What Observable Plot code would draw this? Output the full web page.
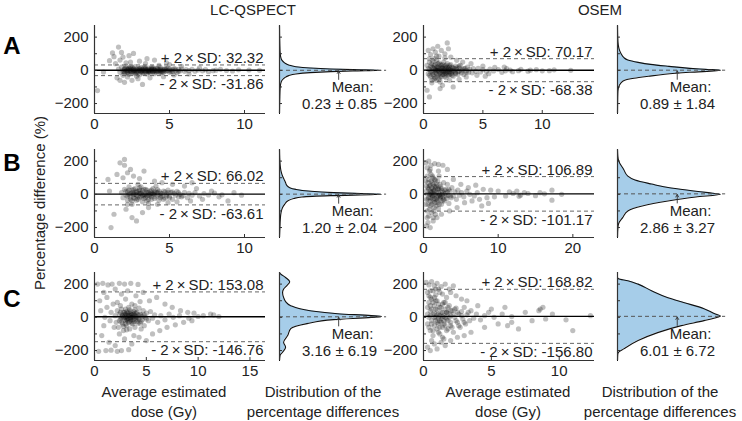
<!DOCTYPE html>
<html><head><meta charset="utf-8">
<script src="https://cdn.jsdelivr.net/npm/d3@7"></script>
<script src="https://cdn.jsdelivr.net/npm/@observablehq/plot@0.6"></script>
<style>
body{margin:0;background:#fff;}
#fig{position:relative;width:742px;height:421px;overflow:hidden;font-family:"Liberation Sans",Arial,sans-serif;color:#222;}
.lbl{position:absolute;white-space:nowrap;font-size:15px;line-height:20px;text-align:center;transform:translate(-50%,-50%);}
.row{font-weight:bold;font-size:24px;color:#000;}
.panel{position:absolute;}
</style></head><body><div id="fig"></div>
<script>
// ---------- data ----------
const methods = ["LC-QSPECT", "OSEM"];
const rowLetters = ["A", "B", "C"];
const xMax = [[11.4, 14.4], [11.4, 22.9], [16.5, 12.6]];
const xTicks = [[[0, 5, 10], [0, 5, 10]], [[0, 5, 10], [0, 10, 20]], [[0, 5, 10, 15], [0, 5, 10]]];
const yTickLabels = [-200, 0, 200];
const yTickMarks = [-200, -100, 0, 100, 200];
const yDomain = [-260, 270];
const meanVals = [[0.23, 0.89], [1.20, 2.86], [3.16, 6.01]];
const meanSD = [[0.85, 1.84], [2.04, 3.27], [6.19, 6.72]];
const upperSD = [[32.32, 70.17], [66.02, 106.89], [153.08, 168.82]];
const lowerSD = [[-31.86, -68.38], [-63.61, -101.17], [-146.76, -156.80]];
const arrowX = 0.58;

const aLC = [[0.2,-122],[0.6,-10],[1.0,58],[1.2,105],[1.3,82],[1.5,-45],[1.6,140],[1.7,62],[1.8,108],[1.9,-30],[2.0,-72],[2.1,45],[2.3,88],[2.5,-60],[2.6,102],[2.8,-35],[3.0,55],[3.2,-85],[3.4,40],[3.7,-45],[4.0,62],[4.3,30],[4.6,-38],[5.0,35],[5.3,-28],[5.8,24],[6.3,-22],[7.0,15],[7.6,-8],[8.4,6],[9.2,-4],[9.6,3],[10.3,2],[11.0,0],
[1.6,8],[1.7,-12],[1.8,20],[1.9,2],[2.0,-18],[2.0,10],[2.1,-4],[2.1,25],[2.2,-10],[2.2,6],[2.3,-24],[2.3,14],[2.4,0],[2.4,-8],[2.5,18],[2.5,-14],[2.6,4],[2.6,-2],[2.7,22],[2.7,-20],[2.8,8],[2.8,-6],[2.9,12],[2.9,-12],[3.0,0],[3.0,-26],[3.1,16],[3.1,-4],[3.2,6],[3.2,-16],[3.3,20],[3.3,-2],[3.4,-10],[3.4,8],[3.5,-22],[3.5,2],[3.6,14],[3.6,-6],[3.7,4],[3.7,-14],[3.8,18],[3.8,-2],[3.9,-10],[3.9,8],[4.0,0],[4.0,-20],[4.1,12],[4.2,-6],[4.2,4],[4.3,-14],[4.4,16],[4.4,-2],[4.5,6],[4.6,-10],[4.7,10],[4.8,-4],[4.9,14],[5.0,-12],[5.1,2],[5.2,-8],[5.3,10],[5.4,-2],[5.5,-14],[5.6,6],[5.7,-4],[5.8,8],[6.0,-6],[6.1,4],[6.3,-2],[6.5,6],[6.7,-5],[6.9,2],[7.2,-3],[7.4,4],[7.9,-2],[8.1,1],[8.8,-1],
[2.2,0],[2.5,5],[2.7,-4],[3.0,8],[3.2,-6],[3.5,-3],[3.8,4],[4.1,-2],[4.5,-6],[2.9,2],[3.6,1],[4.3,3]];
const aLCdense = [[1.9,-6],[2.0,4],[2.1,14],[2.2,-16],[2.3,-2],[2.4,10],[2.5,-8],[2.6,12],[2.7,2],[2.8,-14],[2.9,-4],[3.0,12],[3.1,-8],[3.2,0],[3.3,10],[3.4,-4],[3.5,6],[3.6,-10],[3.7,-2],[3.8,10],[3.9,-6],[4.0,6],[4.1,-10],[4.2,12],[4.3,-4],[4.4,6],[4.5,-12],[4.6,2],[4.7,-6],[4.8,10],[4.9,-2],[5.0,6],[5.1,-8],[5.2,4],[5.4,8],[5.6,-6],[2.3,6],[2.6,-10],[3.1,2],[3.4,14],[3.7,-8],[4.0,-4],[4.4,-12],[4.7,4],[2.0,-8],[2.4,20],[3.3,-18],[3.9,16],
[1.4,40],[1.9,80],[2.2,-40],[2.4,50],[2.9,-50],[3.5,70],[4.8,45],[1.7,-60]];

const aOSEM = [[0.3,-120],[0.5,-160],[0.4,120],[0.6,95],[0.8,130],[0.9,70],[1.0,110],[1.2,145],[1.3,85],[1.5,120],[1.6,-90],[1.8,100],[2.0,165],[2.1,130],[2.3,80],[2.5,-100],[0.7,-75],[1.1,-60],[1.4,-110],[2.8,60],[3.0,-55],[3.3,50],[3.6,-40],[4.0,40],[4.5,-30],[5.0,25],[5.5,-20],[6.0,18],[6.6,-12],[7.0,10],[7.5,-8],[8.2,6],[8.8,-5],[9.5,4],[10.0,-3],[11.0,3],[12.4,0],[10.6,-2],[6.8,20],[5.2,-35],
[0.3,30],[0.4,-20],[0.5,50],[0.5,5],[0.6,-40],[0.7,20],[0.7,-5],[0.8,55],[0.8,-25],[0.9,10],[0.9,-50],[1.0,35],[1.0,-10],[1.1,60],[1.1,0],[1.2,-30],[1.2,20],[1.3,-55],[1.3,45],[1.4,5],[1.4,-15],[1.5,30],[1.5,-40],[1.6,12],[1.6,-5],[1.7,50],[1.7,-25],[1.8,0],[1.8,25],[1.9,-45],[1.9,15],[2.0,-10],[2.0,40],[2.1,5],[2.1,-30],[2.2,20],[2.2,-8],[2.3,-20],[2.3,35],[2.4,0],[2.5,15],[2.5,-35],[2.6,-5],[2.7,25],[2.7,-15],[2.8,5],[2.9,-25],[3.0,15],[3.0,-5],[3.1,30],[3.2,-15],[3.3,5],[3.4,-25],[3.5,12],[3.6,-2],[3.7,20],[3.8,-12],[3.9,6],[4.1,-15],[4.2,10],[4.4,-6],[4.6,12],[4.8,-10],[5.0,4],[5.3,-6],[5.6,8],[5.9,-4],[6.3,5],[6.9,-3],[7.3,2],[8.0,-2],[9.0,1],
[1.0,5],[1.3,-5],[1.6,20],[1.9,-8],[2.2,3],[1.2,10],[1.5,-12],[1.8,-18],[2.1,12],[2.4,-10]];
const aOSEMdense = [[0.4,10],[0.5,-30],[0.6,25],[0.6,-10],[0.7,40],[0.8,-15],[0.8,15],[0.9,-35],[0.9,30],[1.0,0],[1.0,-45],[1.1,20],[1.1,-20],[1.2,40],[1.2,0],[1.3,-25],[1.3,15],[1.4,-40],[1.4,35],[1.5,0],[1.5,15],[1.6,-25],[1.6,35],[1.7,5],[1.7,-10],[1.8,-35],[1.8,12],[1.9,30],[1.9,-20],[2.0,0],[2.0,20],[2.1,-15],[2.2,30],[2.2,-25],[2.3,5],[2.4,-30],[2.4,20],[2.5,-5],[2.6,12],[2.7,-20],[2.8,15],[2.9,-8],[3.0,25],[3.2,-2],[3.4,10],[3.6,-12],
[0.5,70],[0.7,-60],[1.1,85],[1.4,-70],[1.8,75],[2.2,-60]];

const bLC = [[1.1,-200],[1.3,-120],[1.0,20],[0.9,90],[1.5,120],[1.7,190],[2.0,210],[2.0,175],[2.2,130],[1.9,100],[2.4,150],[2.6,110],[3.0,95],[3.3,140],[2.1,-90],[2.5,-140],[2.8,-160],[2.2,-60],[3.2,-110],[3.6,-80],[4.0,80],[4.2,-60],[4.5,70],[4.9,-50],[5.2,60],[5.5,-45],[6.0,50],[6.4,-40],[6.8,35],[7.2,-30],[7.8,20],[8.3,-15],[8.9,-40],[9.3,10],[9.8,-5],[6.5,70],
[1.8,10],[1.9,-20],[2.0,30],[2.1,-5],[2.2,15],[2.2,-35],[2.3,45],[2.3,0],[2.4,-15],[2.5,25],[2.5,-40],[2.6,8],[2.7,-25],[2.7,35],[2.8,-5],[2.9,18],[2.9,-30],[3.0,5],[3.0,40],[3.1,-15],[3.2,22],[3.2,-45],[3.3,0],[3.4,-20],[3.4,30],[3.5,10],[3.5,-8],[3.6,-30],[3.7,20],[3.7,0],[3.8,-15],[3.9,35],[3.9,5],[4.0,-25],[4.1,15],[4.2,-5],[4.2,28],[4.3,-35],[4.4,8],[4.5,-12],[4.6,20],[4.7,-22],[4.8,2],[4.9,25],[5.0,-10],[5.1,12],[5.2,-30],[5.3,5],[5.5,18],[5.6,-15],[5.7,0],[5.9,-8],[6.0,12],[6.2,-20],[6.3,6],[6.5,-5],[6.7,10],[7.0,-10],[7.3,5],[7.6,-4],[8.0,8],[8.5,-3],
[2.6,-2],[3.1,6],[3.6,-4],[4.0,3],[4.4,-6],[2.8,12],[3.3,-10],[3.8,8]];
const bLCdense = [[2.1,20],[2.2,-10],[2.3,25],[2.4,5],[2.4,-30],[2.5,10],[2.6,-20],[2.6,30],[2.7,0],[2.8,20],[2.8,-35],[2.9,-10],[3.0,25],[3.0,-20],[3.1,10],[3.2,-5],[3.3,30],[3.3,-25],[3.4,0],[3.5,-40],[3.5,25],[3.6,10],[3.7,-10],[3.8,25],[3.8,-30],[3.9,0],[4.0,15],[4.1,-15],[4.2,10],[4.3,20],[4.4,-20],[4.5,5],[4.6,-30],[4.7,15],[4.8,-10],[4.9,10],[5.0,-20],[5.2,15],[5.4,-5],[5.6,10],[5.8,-15],
[3.1,45],[3.6,-55],[4.1,50],[2.5,-60],[2.9,60]];

const bOSEM = [[0.3,190],[0.5,160],[0.7,200],[1.0,175],[1.5,185],[2.0,180],[2.6,175],[3.2,150],[0.4,-190],[0.6,-170],[0.9,-200],[1.3,-160],[1.8,-140],[2.4,-120],[3.5,-100],[4.0,90],[4.5,-80],[5.0,60],[5.5,-50],[6.0,40],[6.5,-40],[7.0,55],[7.5,-30],[8.0,30],[8.5,-20],[9.0,25],[9.5,-15],[10.0,20],[11.0,-10],[11.5,15],[12.0,5],[12.5,20],[13.0,-5],[13.5,10],[14.0,5],[15.0,-8],[15.6,10],[16.2,3],[17.2,25],[17.2,-35],[18.5,0],[12.8,-12],[8.7,-55],[7.8,-70],
[0.3,80],[0.3,-60],[0.4,20],[0.5,-100],[0.5,110],[0.6,40],[0.6,-30],[0.7,-130],[0.7,90],[0.8,0],[0.8,140],[0.9,-70],[0.9,55],[1.0,-20],[1.0,120],[1.1,15],[1.1,-110],[1.2,70],[1.2,-45],[1.3,30],[1.3,100],[1.4,-80],[1.4,0],[1.5,50],[1.5,-25],[1.6,-120],[1.6,85],[1.7,10],[1.8,-50],[1.8,60],[1.9,-10],[2.0,35],[2.0,-85],[2.1,110],[2.2,0],[2.2,-30],[2.3,45],[2.4,-60],[2.5,20],[2.6,-15],[2.7,70],[2.8,-40],[2.9,5],[3.0,30],[3.1,-25],[3.2,60],[3.3,-5],[3.4,-55],[3.5,20],[3.7,-20],[3.8,40],[4.0,-10],[4.2,15],[4.4,-30],[4.6,25],[4.8,-5],[5.1,10],[5.4,-15],[5.8,20],[6.2,0],[6.8,-10],[7.2,10],
[1.0,10],[1.4,25],[1.7,-30],[2.1,-5],[2.5,-2],[1.2,-10],[1.9,30],[2.3,-15]];
const bOSEMdense = [[0.4,50],[0.4,-30],[0.5,0],[0.6,70],[0.6,-60],[0.7,30],[0.7,-20],[0.8,-90],[0.8,50],[0.9,20],[0.9,-40],[1.0,80],[1.0,0],[1.1,-60],[1.1,40],[1.2,-10],[1.2,110],[1.3,-30],[1.3,60],[1.4,-100],[1.4,20],[1.5,-50],[1.5,90],[1.6,0],[1.6,40],[1.7,-70],[1.7,50],[1.8,-20],[1.9,80],[1.9,-40],[2.0,10],[2.1,-60],[2.1,30],[2.2,60],[2.3,-15],[2.4,35],[2.5,-40],[2.6,10],[2.7,-30],[2.8,25],[3.0,-10],[3.2,15],[3.4,30],[3.6,-10],
[0.5,-140],[0.9,150],[1.3,-140],[2.0,140]];

const cLC = [[0.3,200],[0.8,205],[1.3,195],[1.7,200],[2.4,205],[2.9,200],[3.5,205],[4.2,198],[0.9,150],[0.5,100],[1.2,120],[2.0,170],[2.6,140],[3.2,160],[4.0,130],[4.7,150],[5.3,100],[6.0,120],[6.8,80],[7.5,60],[8.3,40],[9.0,30],[9.6,25],[10.5,10],[11.2,20],[12.0,5],[0.4,-205],[1.1,-200],[1.6,-198],[2.2,-205],[2.6,-200],[3.3,-195],[1.4,-150],[0.7,-110],[2.0,-170],[2.9,-130],[3.6,-160],[4.3,-120],[5.0,-140],[5.6,-100],[6.3,-80],[7.0,-60],[7.8,-45],[8.6,-30],[9.4,-20],[0.6,40],[0.9,-50],[1.2,60],[1.5,-20],[1.8,80],
[2.0,10],[2.1,-30],[2.2,40],[2.3,-60],[2.4,20],[2.5,-10],[2.5,70],[2.6,0],[2.7,-40],[2.8,30],[2.8,-80],[2.9,15],[3.0,-20],[3.0,50],[3.1,5],[3.1,-50],[3.2,25],[3.2,-5],[3.3,60],[3.3,-30],[3.4,10],[3.4,-70],[3.5,35],[3.5,-15],[3.6,0],[3.6,80],[3.7,-40],[3.7,20],[3.8,-10],[3.9,45],[3.9,-60],[4.0,5],[4.1,-25],[4.1,30],[4.2,-5],[4.3,55],[4.4,-35],[4.5,15],[4.6,-15],[4.7,40],[4.8,-50],[4.9,0],[5.0,25],[5.2,-20],[5.4,35],[5.6,-5],[5.8,15],[6.1,-30],[6.4,10],[6.8,-15],[7.2,20],[7.6,0],[8.2,10],[9.1,-5],[10.0,5],[11.5,15],
[3.0,0],[3.3,12],[3.5,-5],[2.7,8],[3.8,20],[3.1,-12],[2.9,30]];
const cLCdense = [[2.4,-20],[2.5,30],[2.6,-30],[2.7,15],[2.8,0],[2.9,-15],[3.0,20],[3.0,-40],[3.1,35],[3.2,-20],[3.2,10],[3.3,-10],[3.3,30],[3.4,-25],[3.4,45],[3.5,0],[3.5,20],[3.6,-35],[3.6,15],[3.7,5],[3.7,-15],[3.8,35],[3.8,-25],[3.9,10],[4.0,-15],[4.0,25],[4.1,0],[4.2,-35],[4.2,15],[4.3,-10],[4.4,20],[4.5,-25],[4.6,5],[4.8,15],[5.0,-10],
[2.6,50],[2.8,-55],[3.1,-75],[3.9,70],[4.5,-70],[2.2,90],[2.4,-100],[3.0,110],[3.8,-110],[4.4,95],[1.0,0],[1.6,30],[1.9,-60]];

const cOSEM = [[0.2,210],[0.4,195],[0.6,215],[0.8,190],[1.0,205],[1.3,185],[1.6,200],[1.9,170],[2.2,190],[0.3,150],[0.5,120],[0.7,160],[0.9,135],[1.1,170],[1.4,140],[1.7,120],[2.0,150],[2.4,130],[2.8,110],[3.2,100],[0.3,-180],[0.5,-200],[0.8,-160],[1.0,-190],[1.3,-150],[1.6,-170],[2.0,-140],[2.5,-120],[3.0,-110],[3.5,-90],[4.0,70],[4.5,-60],[5.0,50],[5.5,-40],[6.0,60],[6.5,-30],[7.0,-70],[7.5,30],[8.0,-20],[8.5,40],[8.8,60],[9.0,-10],[9.5,20],[10.5,-15],[11.0,-80],[12.3,10],[8.6,50],[6.2,-50],
[0.3,60],[0.3,-40],[0.4,90],[0.4,0],[0.5,-80],[0.5,40],[0.6,110],[0.6,-20],[0.7,20],[0.7,-110],[0.8,70],[0.8,-50],[0.9,0],[0.9,100],[1.0,-30],[1.0,45],[1.1,-90],[1.1,80],[1.2,10],[1.2,-60],[1.3,60],[1.3,-10],[1.4,-120],[1.4,30],[1.5,90],[1.5,-40],[1.6,0],[1.6,50],[1.7,-80],[1.8,25],[1.8,-20],[1.9,70],[2.0,-50],[2.0,10],[2.1,40],[2.2,-90],[2.3,0],[2.4,55],[2.5,-30],[2.6,20],[2.7,-60],[2.8,35],[2.9,-10],[3.0,60],[3.1,-40],[3.2,15],[3.4,-20],[3.5,40],[3.7,-5],[3.9,20],[4.2,-15],[4.5,10],[4.8,30],[5.2,0],[5.8,20],[6.5,5],
[1.0,15],[1.2,-20],[1.4,5],[1.7,30],[0.8,25],[1.1,-5]];
const cOSEMdense = [[0.3,20],[0.4,-60],[0.4,130],[0.5,10],[0.5,70],[0.6,-40],[0.6,50],[0.7,-80],[0.7,90],[0.8,0],[0.8,120],[0.9,-20],[0.9,50],[1.0,-70],[1.0,100],[1.1,20],[1.1,-40],[1.2,60],[1.2,-100],[1.3,30],[1.3,-30],[1.4,80],[1.4,-60],[1.5,10],[1.5,-20],[1.6,-50],[1.6,90],[1.7,30],[1.7,-10],[1.8,60],[1.8,-70],[1.9,0],[2.0,40],[2.0,-30],[2.1,-60],[2.2,20],[2.3,50],[2.4,-20],[2.5,30],[2.6,-50],[2.8,10],[3.0,-30],[3.3,30],
[0.5,160],[0.9,170],[1.2,150],[0.6,-140],[1.5,-130]];

// density curves: [percentage difference, relative density]
const densA_LC = [[-260,0],[-160,0.003],[-110,0.006],[-80,0.012],[-60,0.025],[-45,0.05],[-32,0.09],[-22,0.16],[-14,0.3],[-8,0.5],[-4,0.72],[0,1],[4,0.72],[8,0.5],[14,0.3],[22,0.16],[32,0.09],[45,0.05],[60,0.025],[80,0.012],[110,0.006],[160,0.003],[270,0]];
const densA_OSEM = [[-260,0],[-140,0.003],[-108,0.008],[-78,0.03],[-60,0.07],[-48,0.16],[-36,0.3],[-24,0.46],[-12,0.7],[0,1],[6,0.85],[12,0.7],[24,0.5],[36,0.32],[48,0.2],[62,0.1],[78,0.06],[100,0.035],[120,0.02],[150,0.008],[200,0.002],[270,0]];
const densB_LC = [[-260,0],[-200,0.004],[-150,0.008],[-110,0.015],[-80,0.03],[-60,0.05],[-40,0.08],[-25,0.14],[-16,0.22],[-8,0.5],[0,1],[5,0.8],[10,0.53],[20,0.28],[30,0.16],[40,0.1],[55,0.07],[70,0.06],[90,0.045],[110,0.03],[140,0.015],[180,0.006],[220,0.002],[270,0]];
const densB_OSEM = [[-260,0],[-200,0.004],[-170,0.015],[-140,0.05],[-100,0.1],[-70,0.24],[-40,0.49],[-16,0.76],[0,1],[10,0.88],[20,0.74],[38,0.52],[62,0.33],[86,0.17],[110,0.1],[150,0.06],[200,0.012],[230,0.003],[270,0]];
const densC_LC = [[-260,0],[-230,0.005],[-210,0.03],[-180,0.06],[-150,0.04],[-110,0.08],[-68,0.11],[-38,0.27],[-14,0.53],[0,0.9],[5,1],[10,0.9],[22,0.57],[40,0.3],[70,0.11],[95,0.06],[120,0.04],[150,0.03],[170,0.04],[190,0.07],[215,0.1],[240,0.06],[262,0.01],[270,0]];
const densC_OSEM = [[-260,0],[-225,0.002],[-210,0.01],[-190,0.06],[-140,0.2],[-92,0.39],[-50,0.62],[-20,0.84],[0,0.97],[8,1],[20,0.95],[52,0.84],[88,0.65],[118,0.49],[160,0.33],[200,0.2],[220,0.1],[232,0.01],[240,0]];

const scatterData = [[aLC.concat(aLCdense), aOSEM.concat(aOSEMdense)], [bLC.concat(bLCdense), bOSEM.concat(bOSEMdense)], [cLC.concat(cLCdense), cOSEM.concat(cOSEMdense)]];
const densData = [[densA_LC, densA_OSEM], [densB_LC, densB_OSEM], [densC_LC, densC_OSEM]];

// ---------- layout ----------
const frameTops = [25, 149, 272];
const frameH = 88;
const scatterLeft = [94, 423];
const scatterW = 171;
const densLeft = [279, 617];
const densW = [102, 103];
const FONT = '"Liberation Sans", Arial, sans-serif';
const fig = document.getElementById("fig");
const f2 = v => v.toFixed(2);

function place(node, left, top) {
  const d = document.createElement("div");
  d.className = "panel";
  d.style.left = left + "px";
  d.style.top = top + "px";
  d.appendChild(node);
  fig.appendChild(d);
}
function label(html, x, y, cls) {
  const d = document.createElement("div");
  d.className = "lbl" + (cls ? " " + cls : "");
  d.style.left = x + "px";
  d.style.top = y + "px";
  d.innerHTML = html;
  fig.appendChild(d);
}

const style = {fontFamily: FONT, fontSize: "15px", background: "transparent", overflow: "visible", color: "#222"};

function scatterPlot(pts, xmax, ticks, mean, up, lo) {
  const mL = 40, mT = 10, mR = 12, mB = 26;
  return Plot.plot({
    width: mL + scatterW + mR, height: mT + frameH + mB,
    marginLeft: mL, marginTop: mT, marginRight: mR, marginBottom: mB,
    x: {domain: [0, xmax]}, y: {domain: yDomain},
    style,
    marks: [
      Plot.dot(pts, {x: d => d[0], y: d => d[1], r: 2.6, fill: "#000", fillOpacity: 0.25, stroke: "none"}),
      Plot.ruleY([up, lo], {stroke: "#666", strokeDasharray: "4,3", strokeWidth: 1}),
      Plot.ruleY([mean], {stroke: "#000", strokeWidth: 1.4}),
      Plot.ruleX([0], {stroke: "#333", strokeWidth: 1.2}),
      Plot.ruleY([yDomain[0]], {stroke: "#333", strokeWidth: 1.2}),
      Plot.tickY(yTickMarks, {y: d => d, insetRight: scatterW - 3, stroke: "#333"}),
      Plot.tickX(ticks, {x: d => d, insetTop: frameH - 3, stroke: "#333"}),
      Plot.axisY(yTickLabels, {tickSize: 0, tickPadding: 6, label: null, fill: "#222"}),
      Plot.axisX(ticks, {tickSize: 0, tickPadding: 5, label: null, fill: "#222"}),
      Plot.text([up], {y: d => d, text: d => "+ 2\u2009×\u2009SD: " + f2(d), frameAnchor: "right", textAnchor: "end", lineAnchor: "bottom", dx: -2, dy: -2, fill: "#222"}),
      Plot.text([lo], {y: d => d, text: d => "- 2\u2009×\u2009SD: " + f2(d), frameAnchor: "right", textAnchor: "end", lineAnchor: "top", dx: -2, dy: 3, fill: "#222"})
    ]
  });
}

function densityPlot(dens, w, mean, sd) {
  const mL = 5, mT = 10, mR = 14, mB = 26;
  return Plot.plot({
    width: mL + w + mR, height: mT + frameH + mB,
    marginLeft: mL, marginTop: mT, marginRight: mR, marginBottom: mB,
    x: {domain: [0, 1], axis: null}, y: {domain: yDomain, axis: null},
    style,
    marks: [
      Plot.areaX(dens, {y: d => d[0], x: d => d[1], fill: "#a6cde9", curve: "monotone-y"}),
      Plot.lineX(dens, {y: d => d[0], x: d => d[1], stroke: "#111", strokeWidth: 1.1, curve: "monotone-y"}),
      Plot.ruleY([mean], {x1: 0, x2: 1.05, stroke: "#555", strokeDasharray: "4,3", strokeWidth: 1}),
      Plot.arrow([mean], {x1: arrowX, x2: arrowX, y1: d => d - 55, y2: d => d - 4, stroke: "#333", strokeWidth: 0.9, headLength: 5}),
      Plot.ruleX([0], {stroke: "#333", strokeWidth: 1.2}),
      Plot.tickY(yTickMarks, {y: d => d, insetRight: w - 3, stroke: "#333"}),
      Plot.text(["Mean:"], {frameAnchor: "left", textAnchor: "middle", dx: 73, dy: 18, fill: "#222"}),
      Plot.text([f2(mean) + " ± " + f2(sd)], {frameAnchor: "left", textAnchor: "middle", dx: 60, dy: 35, fill: "#222"})
    ]
  });
}

for (let r = 0; r < 3; r++) {
  for (let m = 0; m < 2; m++) {
    place(scatterPlot(scatterData[r][m], xMax[r][m], xTicks[r][m], meanVals[r][m], upperSD[r][m], lowerSD[r][m]),
      scatterLeft[m] - 40, frameTops[r] - 10);
    place(densityPlot(densData[r][m], densW[m], meanVals[r][m], meanSD[r][m]),
      densLeft[m] - 5, frameTops[r] - 10);
  }
}

// titles and labels
label(methods[0], 253, 10);
label(methods[1], 600, 10);
label(rowLetters[0], 12, 46, "row");
label(rowLetters[1], 12, 163, "row");
label(rowLetters[2], 12, 299, "row");
const yl = document.createElement("div");
yl.className = "lbl";
yl.style.left = "40px"; yl.style.top = "203px";
yl.style.transform = "translate(-50%,-50%) rotate(-90deg)";
yl.textContent = "Percentage difference (%)";
fig.appendChild(yl);
label("Average estimated<br>dose (Gy)", 164, 402);
label("Average estimated<br>dose (Gy)", 508, 402);
label("Distribution of the<br>percentage differences", 323, 402);
label("Distribution of the<br>percentage differences", 660, 402);
</script></body></html>
